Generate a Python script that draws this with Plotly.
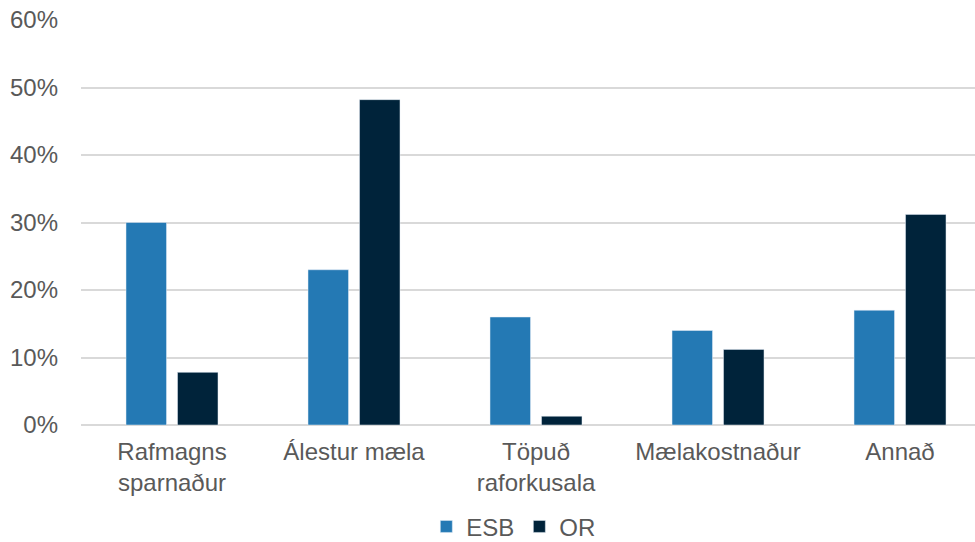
import plotly.graph_objects as go

categories = ["Rafmagns<br>sparnaður", "Álestur mæla", "Töpuð<br>raforkusala", "Mælakostnaður", "Annað"]
esb = [0.30, 0.23, 0.16, 0.14, 0.17]
orv = [0.078, 0.482, 0.013, 0.112, 0.312]

FONT = "Liberation Sans, Arial, sans-serif"
GRAY = "#595959"
FS = 24

fig = go.Figure()
fig.add_trace(go.Bar(name="ESB", x=categories, y=esb, marker=dict(color="#2479b4")))
fig.add_trace(go.Bar(name="OR", x=categories, y=orv, marker=dict(color="#00233a")))

fig.update_layout(
    width=975, height=542,
    margin=dict(l=81, r=0, t=20, b=117),
    paper_bgcolor="white", plot_bgcolor="white",
    barmode="group", bargap=0.434, bargroupgap=0.214,
    font=dict(family=FONT, size=FS, color=GRAY),
    legend=dict(orientation="h", x=0.527, xanchor="center", xref="container",
                y=0.028, yanchor="middle", yref="container",
                font=dict(size=FS, color=GRAY), traceorder="normal",
                itemwidth=30),
    showlegend=True,
)
fig.update_yaxes(range=[0, 0.6], dtick=0.1, tickformat=".0%",
                 showgrid=True, gridcolor="#d9d9d9", gridwidth=1.5,
                 zeroline=True, zerolinecolor="#d9d9d9", zerolinewidth=1.5,
                 showline=False, ticklabelstandoff=22,
                 tickfont=dict(size=FS, color=GRAY))
# the last category runs slightly past the right edge of the chart area
fig.update_xaxes(range=[-0.5, 4.412], showline=False, showgrid=False, ticks="",
                 tickfont=dict(size=FS, color=GRAY), ticklabelstandoff=10)

fig.write_html("out.html")
